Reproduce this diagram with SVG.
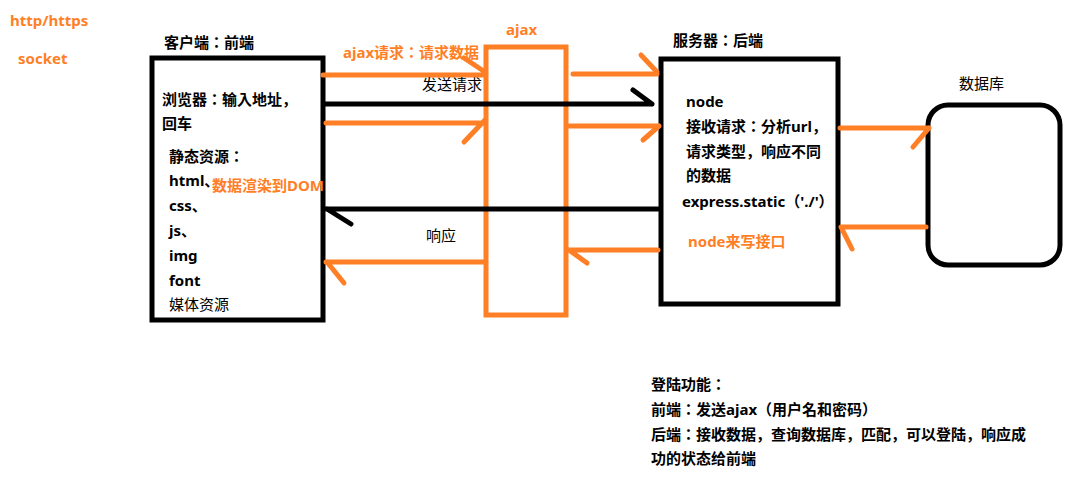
<svg xmlns="http://www.w3.org/2000/svg" width="1090" height="483" viewBox="0 0 1090 483">
<style>
text{font-family:"Noto Sans","Noto Sans CJK JP","Noto Sans CJK SC",sans-serif;font-size:15px;font-weight:bold;fill:#000}
.o{fill:#FF7F27}
.n{font-weight:normal}
.box{fill:none;stroke:#000;stroke-width:5}
.obox{fill:none;stroke:#FF7F27;stroke-width:5}
.ol{stroke:#FF7F27;stroke-width:5;stroke-linecap:round;fill:none}
.bl{stroke:#000;stroke-width:5;stroke-linecap:round;fill:none}
</style>
<rect width="1090" height="483" fill="#fff"/>
<g id="protocols">
<text x="10" y="26" class="o">http/https</text>
<text x="18" y="64" class="o">socket</text>
</g>
<g id="client">
<rect class="box" x="152" y="58" width="171" height="262"/>
<text x="164" y="48">客户端：前端</text>
<text x="162" y="105">浏览器：输入地址，</text>
<text x="162" y="129">回车</text>
<text x="169" y="162">静态资源：</text>
<text x="169" y="186">html、</text>
<text x="212" y="191" class="o">数据渲染到DOM</text>
<text x="169" y="211">css、</text>
<text x="169" y="236">js、</text>
<text x="169" y="261">img</text>
<text x="169" y="286">font</text>
<text x="169" y="310" class="n">媒体资源</text>
</g>
<g id="ajax">
<rect class="obox" x="486" y="47" width="80" height="268"/>
<text x="506" y="35" class="o">ajax</text>
</g>
<g id="server">
<rect class="box" x="661" y="59" width="177" height="245"/>
<text x="673" y="46">服务器：后端</text>
<text x="686" y="107">node</text>
<text x="686" y="132">接收请求：分析url，</text>
<text x="686" y="157">请求类型，响应不同</text>
<text x="686" y="181">的数据</text>
<text x="682" y="207">express.static（'./'）</text>
<text x="688" y="247" class="o">node来写接口</text>
</g>
<g id="database">
<rect class="box" x="928" y="105" width="132" height="160" rx="20" ry="20"/>
<text x="959" y="89" class="n">数据库</text>
</g>
<g id="connectors">
<path class="ol" d="M323 75H485M464 58L485 72"/>
<path class="ol" d="M573 74H657M641 55L657 72"/>
<path class="bl" d="M325 104H652M633 90L652 104"/>
<path class="ol" d="M326 123H485M464 142L485 120"/>
<path class="ol" d="M569 126H659M643 140L659 126"/>
<path class="bl" d="M326 209H658M327 209L351 224"/>
<path class="ol" d="M326 262H485M327 262L344 283"/>
<path class="ol" d="M658 250H569M569 250L587 263"/>
<path class="ol" d="M840 128H929M913 147L929 128"/>
<path class="ol" d="M926 227H841M841 227L852 249"/>
</g>
<g id="labels">
<text x="343" y="58" class="o">ajax请求：请求数据</text>
<text x="422" y="90" class="n">发送请求</text>
<text x="426" y="241" class="n">响应</text>
</g>
<g id="notes">
<text x="651" y="390">登陆功能：</text>
<text x="651" y="415">前端：发送ajax（用户名和密码）</text>
<text x="651" y="440">后端：接收数据，查询数据库，匹配，可以登陆，响应成</text>
<text x="651" y="464">功的状态给前端</text>
</g>
</svg>
